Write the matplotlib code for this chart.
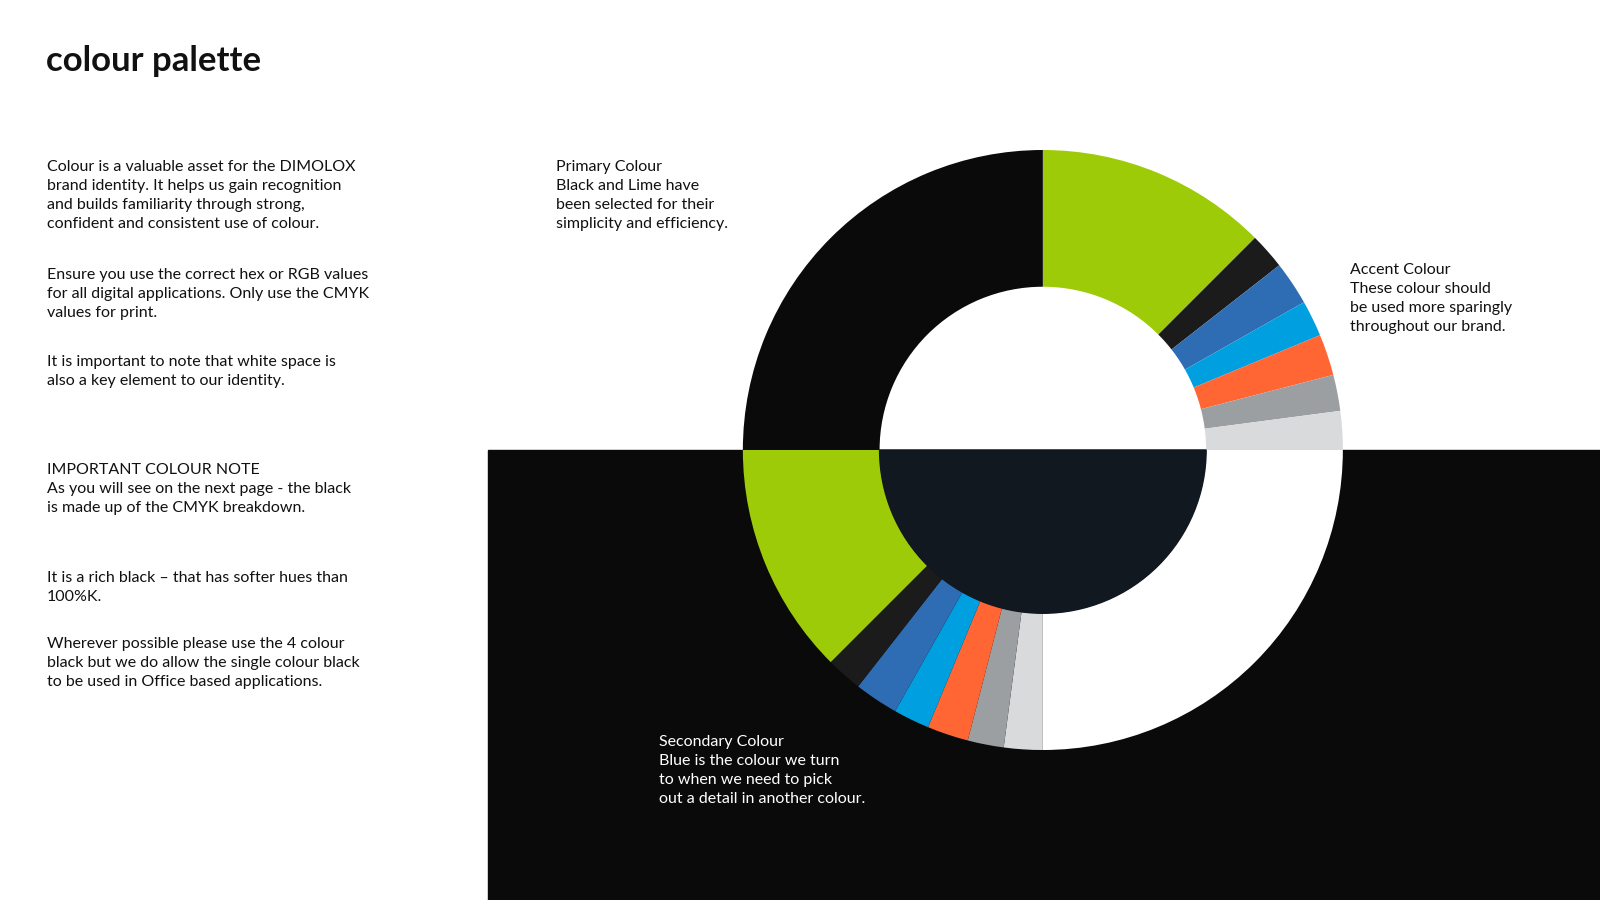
import matplotlib
matplotlib.use("Agg")
import matplotlib.pyplot as plt
from matplotlib.patches import Rectangle, Wedge

plt.rcParams['font.family'] = ['Lato', 'DejaVu Sans']

# slice values in degrees, clockwise from 12 o'clock
slice_names = ["Lime", "Black", "Blue", "Cyan", "Orange", "Grey", "Light grey", "White",
               "Light grey", "Grey", "Orange", "Cyan", "Blue", "Black", "Lime", "Black"]
slice_values = [45, 7, 8.5, 7, 8, 7, 7.5, 90, 7.5, 7, 8, 7, 8.5, 7, 45, 90]
slice_colors = ["#9ecb07", "#1b1b1b", "#2e6db4", "#00a0e0", "#ff6633", "#9b9fa2", "#d9dadc", "#ffffff",
                "#d9dadc", "#9b9fa2", "#ff6633", "#00a0e0", "#2e6db4", "#1b1b1b", "#9ecb07", "#0a0a0a"]

W, H = 1568, 882
fig = plt.figure(figsize=(16, 9), dpi=100)
ax = fig.add_axes([0, 0, 1, 1])
ax.set_xlim(0, W); ax.set_ylim(0, H); ax.axis('off')

def Y(y): return H - y

ax.add_patch(Rectangle((478, 0), W - 478, Y(441), color="#0a0a0a", zorder=0))
cx, cy, R, r = 1022, Y(441), 294, 160
ax.pie(slice_values, colors=slice_colors, startangle=90, counterclock=False,
       center=(cx, cy), radius=R, wedgeprops=dict(width=R - r, linewidth=0), frame=True)
ax.set_xlim(0, W); ax.set_ylim(0, H); ax.axis('off'); ax.set_aspect('auto')
ax.add_patch(Wedge((cx, cy), r, 180, 360, color="#111820", zorder=5))

ax.text(45, Y(60), "colour palette", fontsize=25, fontweight='bold', va='center', color="#111111")
fs = 11.5
def block(x, y, s, c="#111111"):
    ax.text(x, Y(y), s, fontsize=fs, va='top', color=c, linespacing=1.45)
block(46, 157, "Colour is a valuable asset for the DIMOLOX\nbrand identity. It helps us gain recognition\nand builds familiarity through strong,\nconfident and consistent use of colour.")
block(46, 263, "Ensure you use the correct hex or RGB values\nfor all digital applications. Only use the CMYK\nvalues for print.")
block(46, 348, "It is important to note that white space is\nalso a key element to our identity.")
block(46, 454, "IMPORTANT COLOUR NOTE\nAs you will see on the next page - the black\nis made up of the CMYK breakdown.")
block(46, 560, "It is a rich black \u2013 that has softer hues than\n100%K.")
block(46, 624, "Wherever possible please use the 4 colour\nblack but we do allow the single colour black\nto be used in Office based applications.")
block(545, 157, "Primary Colour\nBlack and Lime have\nbeen selected for their\nsimplicity and efficiency.")
block(1323, 258, "Accent Colour\nThese colour should\nbe used more sparingly\nthroughout our brand.")
block(646, 720, "Secondary Colour\nBlue is the colour we turn\nto when we need to pick\nout a detail in another colour.", c="white")

fig.savefig("out.png", dpi=100)
